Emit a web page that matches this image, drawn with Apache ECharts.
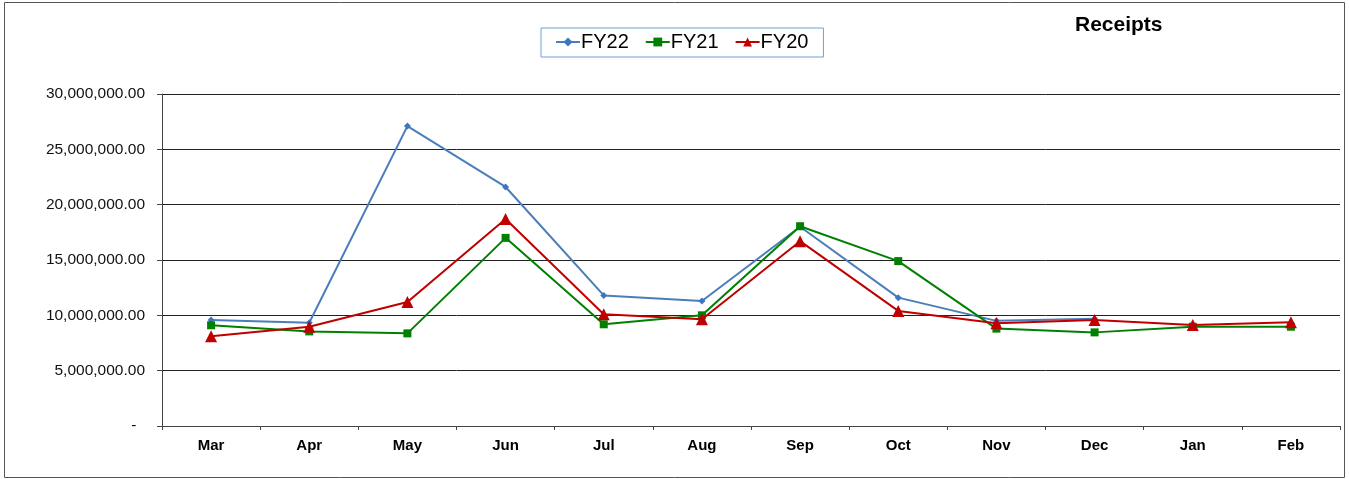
<!DOCTYPE html>
<html>
<head>
<meta charset="utf-8">
<script src="https://cdn.jsdelivr.net/npm/echarts@6/dist/echarts.min.js"></script>
<style>
html,body{margin:0;padding:0;background:#fff;}
#c{width:1349px;height:479px;}
</style>
</head>
<body>
<div id="c"></div>
<script>
const categories = ['Mar','Apr','May','Jun','Jul','Aug','Sep','Oct','Nov','Dec','Jan','Feb'];
const fy22 = [9580000, 9330000, 27100000, 21600000, 11800000, 11300000, 18000000, 11600000, 9500000, 9700000, null, null];
const fy21 = [9100000, 8550000, 8370000, 17000000, 9190000, 10000000, 18050000, 14900000, 8800000, 8460000, 8970000, 8970000];
const fy20 = [8100000, 8970000, 11200000, 18700000, 10100000, 9640000, 16700000, 10400000, 9280000, 9580000, 9120000, 9370000];
const yTicks = { min: 0, max: 30000000, interval: 5000000 };

const font = '"Liberation Sans", Arial, sans-serif';
function fmt(v){
  if (v === 0) return '-\u00a0\u00a0';
  return v.toLocaleString('en-US', {minimumFractionDigits:2, maximumFractionDigits:2});
}
const chart = echarts.init(document.getElementById('c'), null, {renderer:'canvas'});
chart.setOption({
  animation: false,
  backgroundColor: '#fff',
  textStyle: { fontFamily: font },
  title: {
    text: 'Receipts',
    left: 1070, top: 10,
    textStyle: { fontFamily: font, fontSize: 21, fontWeight: 'bold', color: '#000' }
  },
  legend: {
    left: 541, top: 28,
    padding: [4, 15, 5, 14],
    borderColor: '#6fa0d8', borderWidth: 1,
    itemWidth: 24, itemHeight: 11, itemGap: 16,
    textStyle: { fontFamily: font, fontSize: 20, color: '#000', padding: [0,0,0,-4] },
    data: ['FY22','FY21','FY20']
  },
  graphic: [{
    type: 'rect',
    shape: { x: 4.5, y: 2.5, width: 1340, height: 475 },
    style: { fill: 'none', stroke: '#555', lineWidth: 1 },
    silent: true
  }],
  grid: { left: 162, right: 9, top: 94, bottom: 53, containLabel: false },
  xAxis: {
    type: 'category',
    data: categories,
    boundaryGap: true,
    axisLine: { lineStyle: { color: '#444', width: 1 } },
    axisTick: { show: true, length: 4, lineStyle: { color: '#444' } },
    axisLabel: { fontFamily: font, fontSize: 15, fontWeight: 'bold', color: '#000', margin: 12 }
  },
  yAxis: {
    type: 'value',
    min: yTicks.min, max: yTicks.max, interval: yTicks.interval,
    axisLine: { show: true, lineStyle: { color: '#444', width: 1 } },
    axisTick: { show: true, length: 5, lineStyle: { color: '#444' } },
    splitLine: { show: true, lineStyle: { color: '#222', width: 1 } },
    axisLabel: { fontFamily: font, fontSize: 15.5, color: '#111', margin: 17, formatter: fmt }
  },
  series: [
    {
      name: 'FY22', type: 'line', data: fy22,
      symbol: 'diamond', symbolSize: 7, showAllSymbol: true,
      lineStyle: { color: '#4a7ebb', width: 2 },
      itemStyle: { color: '#3d76c0' },
      z: 3
    },
    {
      name: 'FY21', type: 'line', data: fy21,
      symbol: 'rect', symbolSize: 8, showAllSymbol: true,
      lineStyle: { color: '#008000', width: 2 },
      itemStyle: { color: '#008000' },
      z: 4
    },
    {
      name: 'FY20', type: 'line', data: fy20,
      symbol: 'triangle', symbolSize: 12, showAllSymbol: true,
      lineStyle: { color: '#c00000', width: 2 },
      itemStyle: { color: '#c00000' },
      z: 5
    }
  ]
});
</script>
</body>
</html>
